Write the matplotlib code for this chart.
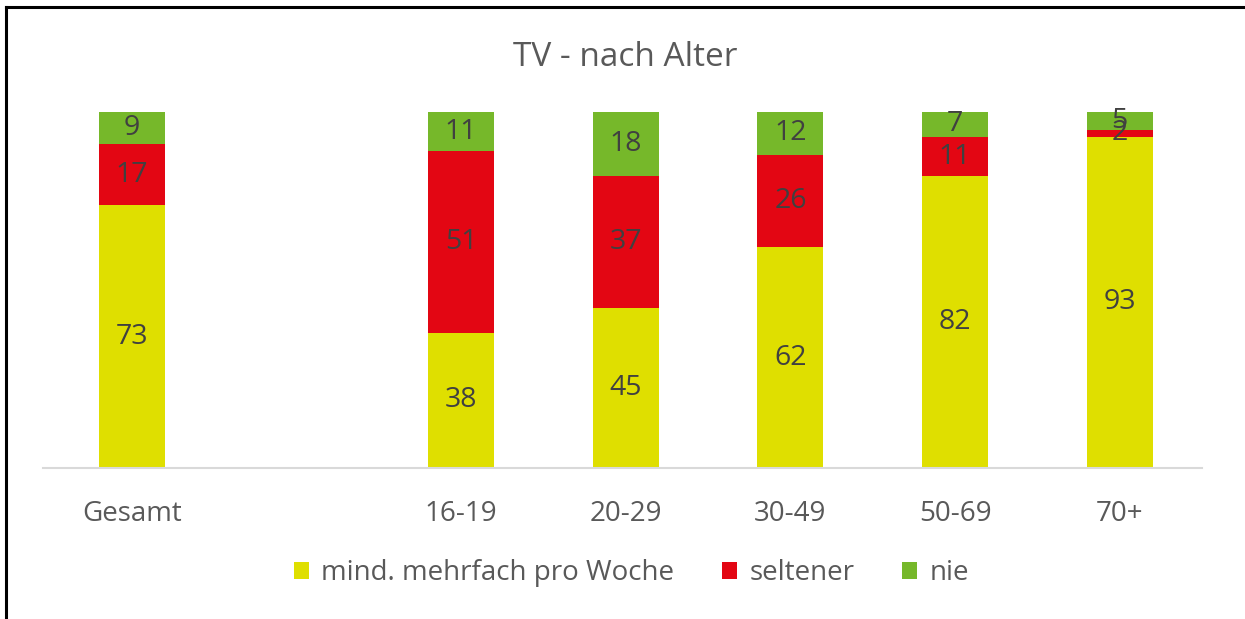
import numpy as np
import matplotlib.pyplot as plt
from matplotlib.lines import Line2D

plt.rcParams['font.family'] = ['Open Sans', 'DejaVu Sans']

categories = ['Gesamt', '', '16-19', '20-29', '30-49', '50-69', '70+']
oft = [73, np.nan, 38, 45, 62, 82, 93]
seltener = [17, np.nan, 51, 37, 26, 11, 2]
nie = [9, np.nan, 11, 18, 12, 7, 5]
series_names = ['mind. mehrfach pro Woche', 'seltener', 'nie']
colors = ['#DFDF00', '#E30613', '#76B82A']

W, H = 1245, 619
fig = plt.figure(figsize=(W / 100, H / 100), dpi=100)
ax = fig.add_axes([43 / W, (H - 468) / H, (1202 - 43) / W, (468 - 112) / H])

x = np.arange(len(categories))
raw = np.array([oft, seltener, nie], dtype=float)
totals = np.nansum(raw, axis=0)
totals[totals == 0] = 1
pct = raw / totals * 100

bottom = np.zeros(len(categories))
for i, name in enumerate(series_names):
    vals = np.nan_to_num(pct[i])
    ax.bar(x, vals, width=0.4, bottom=bottom, color=colors[i], label=name)
    for j in range(len(categories)):
        if not np.isnan(raw[i, j]):
            ax.text(x[j], bottom[j] + vals[j] / 2, f'{raw[i, j]:.0f}',
                    ha='center', va='center', fontsize=20.5, color='#404040')
    bottom += vals

ax.set_xlim(-0.54, 6.5)
ax.set_ylim(0, 100)
ax.set_xticks(x)
ax.set_xticklabels(categories, fontsize=20, color='#595959')
ax.tick_params(axis='x', length=0, pad=23)
ax.set_yticks([])
for s in ['top', 'right', 'left']:
    ax.spines[s].set_visible(False)
ax.spines['bottom'].set_color('#d9d9d9')
ax.spines['bottom'].set_linewidth(1.5)

fig.text(0.502, (H - 58) / H, 'TV - nach Alter', ha='center', va='center',
         fontsize=24, color='#595959')

fig.legend(loc='center', bbox_to_anchor=(0.507, (H - 573) / H), ncol=3,
           frameon=False, fontsize=20, handlelength=0.55, handleheight=0.55,
           handletextpad=0.45, columnspacing=1.7, labelcolor='#595959')

# Rahmen oben und links
fig.add_artist(Line2D([6 / W, 1], [(H - 7) / H, (H - 7) / H], color='black', lw=2.2))
fig.add_artist(Line2D([6 / W, 6 / W], [0, (H - 7) / H], color='black', lw=2.2))

fig.savefig('out.png', dpi=100)
